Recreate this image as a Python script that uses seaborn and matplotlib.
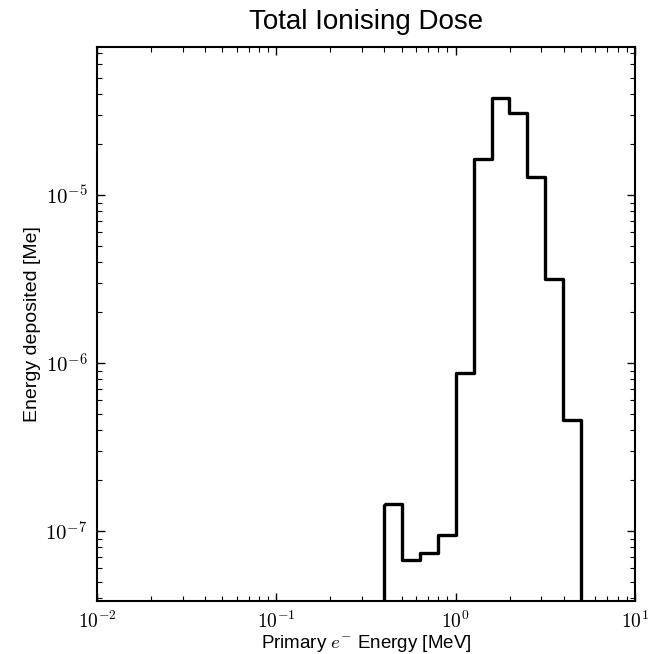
import numpy as np
import pandas as pd
import matplotlib
matplotlib.use("Agg")
import matplotlib.pyplot as plt
from matplotlib.ticker import FuncFormatter
import seaborn as sns

# Data
bin_edges_log10 = [-0.4, -0.3, -0.2, -0.1, 0.0, 0.1, 0.2, 0.3, 0.4, 0.5, 0.6, 0.7]
energy_deposited = [1.45e-7, 6.7e-8, 7.4e-8, 9.5e-8, 8.7e-7, 1.64e-5,
                    3.78e-5, 3.08e-5, 1.28e-5, 3.16e-6, 4.6e-7]
title = "Total Ionising Dose"
xlabel = "Primary $e^{-}$ Energy [MeV]"
ylabel = "Energy deposited [Me]"

edges_log = np.array(bin_edges_log10)
centers = 10.0 ** ((edges_log[:-1] + edges_log[1:]) / 2)
df = pd.DataFrame({"energy": centers, "dose": energy_deposited})

sns.set_theme(style="ticks")
plt.rcParams["font.family"] = ["Liberation Sans", "DejaVu Sans"]
plt.rcParams["mathtext.fontset"] = "cm"
plt.rcParams["text.color"] = "black"
plt.rcParams["axes.labelcolor"] = "black"
plt.rcParams["xtick.color"] = "black"
plt.rcParams["ytick.color"] = "black"

fig = plt.figure(figsize=(6.49, 6.54), dpi=100)
ax = fig.add_axes([97 / 649, 1 - 601 / 654, (635 - 97) / 649, (601 - 47) / 654])

sns.histplot(data=df, x="energy", weights="dose",
             bins=len(energy_deposited),
             binrange=(bin_edges_log10[0], bin_edges_log10[-1]),
             log_scale=True, element="step",
             fill=True, color="black", linewidth=2.3, alpha=1, ax=ax)
for coll in ax.collections:
    coll.set_facecolor("none")
    coll.set_edgecolor("black")
    coll.set_linewidth(2.4)

ax.set_xscale("log")
ax.set_yscale("log")
ax.set_xlim(1e-2, 1e1)
ax.set_ylim(3.83e-8, 7.6e-5)

def log_fmt(v, pos):
    e = int(np.round(np.log10(v)))
    return r"$10^{%d}$" % e

ax.xaxis.set_major_formatter(FuncFormatter(log_fmt))
ax.yaxis.set_major_formatter(FuncFormatter(log_fmt))

for s in ax.spines.values():
    s.set_visible(True)
    s.set_linewidth(1.5)
    s.set_color("black")

ax.tick_params(which="both", direction="in", top=True, right=True, color="black")
ax.tick_params(axis="y", which="major", length=6, width=1, labelsize=15, pad=7)
ax.tick_params(axis="x", which="major", length=6, width=1, labelsize=14, pad=7)
ax.tick_params(which="minor", length=3.5, width=0.8)

ax.set_title(title, fontsize=20, pad=13)
ax.set_xlabel(xlabel, fontsize=13.5, labelpad=1)
ax.set_ylabel(ylabel, fontsize=14, labelpad=3)

fig.savefig("out.png", dpi=100)
